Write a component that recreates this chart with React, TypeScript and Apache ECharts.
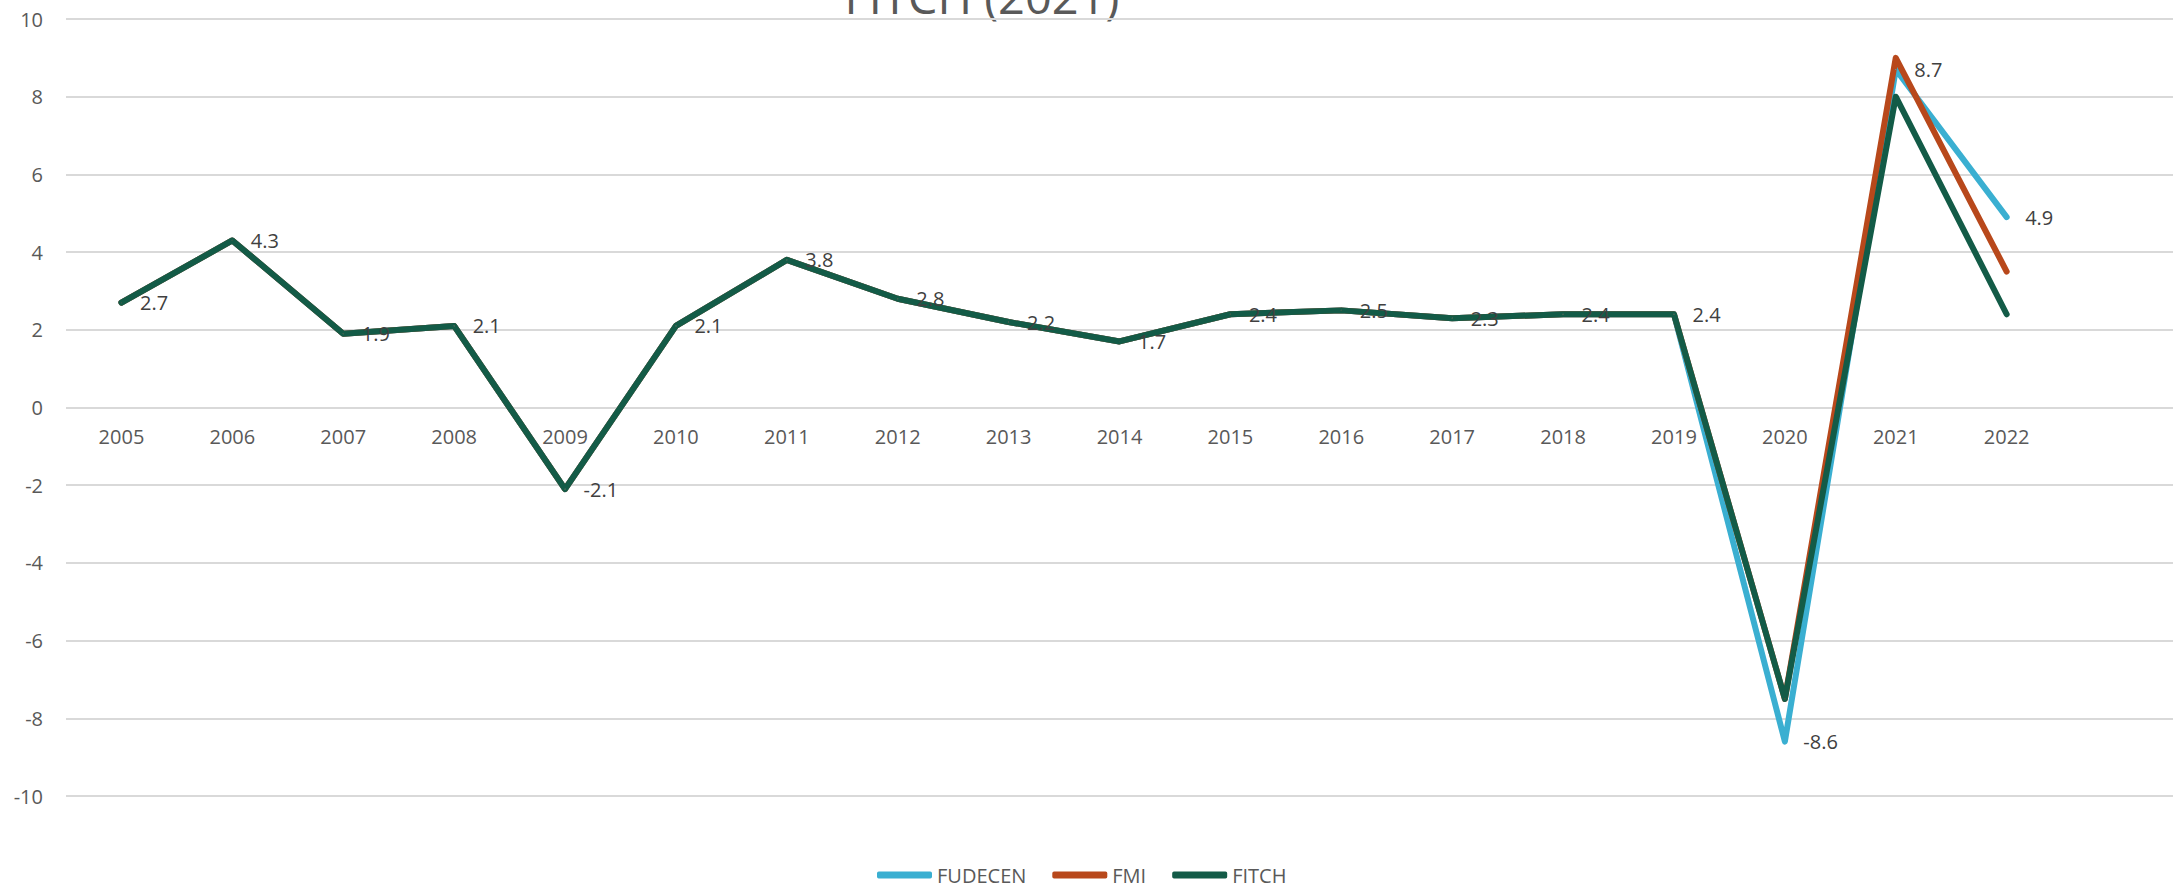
import React, { useEffect, useRef } from "react";
import * as echarts from "echarts";

const years = ["2005","2006","2007","2008","2009","2010","2011","2012","2013","2014","2015","2016","2017","2018","2019","2020","2021","2022",""];
const fudecen = [2.7, 4.3, 1.9, 2.1, -2.1, 2.1, 3.8, 2.8, 2.2, 1.7, 2.4, 2.5, 2.3, 2.4, 2.4, -8.6, 8.7, 4.9];
const fmi = [2.7, 4.3, 1.9, 2.1, -2.1, 2.1, 3.8, 2.8, 2.2, 1.7, 2.4, 2.5, 2.3, 2.4, 2.4, -7.5, 9.0, 3.5];
const fitch = [2.7, 4.3, 1.9, 2.1, -2.1, 2.1, 3.8, 2.8, 2.2, 1.7, 2.4, 2.5, 2.3, 2.4, 2.4, -7.5, 8.0, 2.4];
const seriesNames = ["FUDECEN", "FMI", "FITCH"];
const colors = ["#3aafd1", "#b8481b", "#135b47"];
const titleText = "FITCH (2021)";

const FONT = '"Open Sans", "Noto Sans", sans-serif';
const GRID_TOP = 19;
const GRID_BOTTOM = 92;
const CHART_H = 888;

export default function App() {
  const ref = useRef<HTMLDivElement>(null);
  useEffect(() => {
    if (!ref.current) return;
    const chart = echarts.init(ref.current, null, { renderer: "svg" });
    const gridH = CHART_H - GRID_TOP - GRID_BOTTOM;
    const mk = (name: string, data: number[], color: string, labels: boolean) => ({
      name,
      type: "line",
      data,
      symbol: "circle",
      symbolSize: 1,
      showSymbol: true,
      itemStyle: { color },
      lineStyle: { color, width: 6, cap: "round", join: "round" },
      label: labels
        ? {
            show: true,
            position: "right",
            distance: 18,
            color: "#404040",
            fontSize: 20,
            fontFamily: FONT,
            formatter: (p: any) => String(p.value),
          }
        : { show: false },
      emphasis: { disabled: true },
    });
    chart.setOption({
      animation: false,
      backgroundColor: "#ffffff",
      textStyle: { fontFamily: FONT },
      grid: { left: 66, right: 0, top: GRID_TOP, bottom: GRID_BOTTOM, containLabel: false },
      graphic: [
        {
          type: "text",
          x: 982,
          y: -4,
          style: {
            text: titleText,
            fontSize: 47,
            fontFamily: FONT,
            fill: "#595959",
            textAlign: "center",
            textVerticalAlign: "middle",
          },
        },
      ],
      legend: {
        data: seriesNames,
        left: 872,
        top: 860,
        icon: "roundRect",
        itemWidth: 55,
        itemHeight: 7,
        itemGap: 26,
        textStyle: { color: "#595959", fontSize: 20, fontFamily: FONT },
      },
      xAxis: {
        type: "category",
        data: years,
        boundaryGap: true,
        position: "bottom",
        offset: -gridH / 2,
        axisLine: { show: false, onZero: false },
        axisTick: { show: false },
        axisLabel: { color: "#595959", fontSize: 20, fontFamily: FONT, margin: 19, interval: 0 },
        splitLine: { show: false },
      },
      yAxis: {
        type: "value",
        min: -10,
        max: 10,
        interval: 2,
        axisLine: { show: false },
        axisTick: { show: false },
        axisLabel: { color: "#595959", fontSize: 20, fontFamily: FONT, margin: 23 },
        splitLine: { show: true, lineStyle: { color: "#d9d9d9", width: 2 } },
      },
      series: [
        mk(seriesNames[0], fudecen, colors[0], true),
        mk(seriesNames[1], fmi, colors[1], false),
        mk(seriesNames[2], fitch, colors[2], false),
      ],
    });
    return () => chart.dispose();
  }, []);
  return (
    <div
      ref={ref}
      style={{ position: "fixed", left: 0, top: 0, width: 2173, height: 888, background: "#fff" }}
    />
  );
}
